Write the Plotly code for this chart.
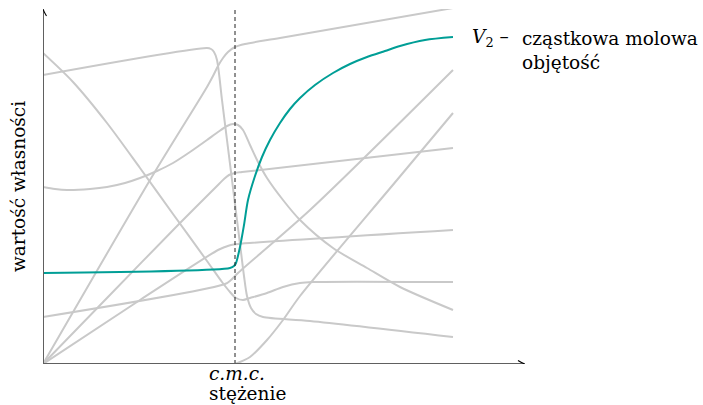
import plotly.graph_objects as go

# Data in arbitrary units: x = concentration, y = property value
cmc = 192

v2_x = [0, 187, 191, 193, 197, 201, 205, 212, 219, 227, 237, 247, 257, 272, 290, 307, 324, 342, 357, 382, 410]
v2_y = [91, 96, 98, 101, 117, 139, 164, 188, 207, 224, 241, 255, 266, 279, 291, 300, 307, 313, 318, 324, 327]

g1_x = [0, 164, 168, 171, 174, 179, 184, 190, 194, 198, 201, 204, 208, 213, 220, 267, 410]
g1_y = [289, 316, 315, 312, 304, 264, 224, 176, 144, 112, 88, 68, 56, 50, 47, 43, 27]

g2_x = [0, 30, 64, 97, 130, 164, 179, 187, 193, 200, 207, 224, 240, 257, 270, 410]
g2_y = [311, 282, 241, 196, 150, 103, 82, 72, 66, 64, 66, 71, 77, 81, 82, 82]

g3_x = [0, 12, 24, 47, 64, 82, 97, 114, 130, 147, 164, 175, 184, 190, 195, 200, 207, 215, 224, 240, 257, 290, 324, 357, 410]
g3_y = [177, 175, 174, 175, 177, 181, 186, 193, 201, 212, 224, 232, 238, 240, 239, 234, 219, 202, 186, 164, 144, 116, 96, 77, 54]

g4_x = [0, 110, 164, 170, 175, 180, 185, 192, 202, 237, 410]
g4_y = [0, 189, 277, 288, 298, 306, 312, 317, 320, 326, 356]

g5_x = [0, 64, 137, 175, 181, 186, 192, 199, 410]
g5_y = [0, 66, 141, 179, 185, 189, 191, 192, 216]

g6_x = [192, 207, 224, 240, 257, 354, 410]
g6_y = [0, 7, 24, 44, 68, 184, 251]

g7_x = [0, 97, 175, 182, 188, 195, 410]
g7_y = [0, 64, 114, 117, 119, 120, 134]

g8_x = [0, 182, 188, 195, 267, 410]
g8_y = [47, 80, 84, 91, 154, 294]

x_max = 482
y_max = 355

GRAY = "#c9c9c9"
TEAL = "#009e96"
FONT = "DejaVu Serif"
FS = 18.5

fig = go.Figure()

for gx, gy in [(g1_x, g1_y), (g2_x, g2_y), (g3_x, g3_y), (g4_x, g4_y),
               (g5_x, g5_y), (g6_x, g6_y), (g7_x, g7_y), (g8_x, g8_y)]:
    fig.add_trace(go.Scatter(x=gx, y=gy, mode="lines",
                             line=dict(color=GRAY, width=2, shape="spline", smoothing=0.8),
                             hoverinfo="skip", showlegend=False))

fig.add_trace(go.Scatter(x=v2_x, y=v2_y, mode="lines",
                         line=dict(color=TEAL, width=2, shape="spline", smoothing=0.8),
                         showlegend=False))

# cmc dashed line
fig.add_shape(type="line", x0=cmc, x1=cmc, y0=0, y1=y_max, xref="x", yref="y",
              line=dict(color="#222", width=1, dash="4px,3px"), layer="above")

# axes
fig.add_shape(type="line", x0=0, x1=x_max - 1, y0=0, y1=0, xref="x", yref="y",
              line=dict(color="#606060", width=2), layer="above")
fig.add_shape(type="line", x0=0, x1=0, y0=0, y1=y_max - 1, xref="x", yref="y",
              line=dict(color="#606060", width=2), layer="above")
# arrow heads (axes are 1 unit = 1 px)
fig.add_shape(type="path", xref="x", yref="y", layer="above",
              path=f"M {x_max-7},-3.5 Q {x_max-3},-1 {x_max},0 Q {x_max-3},1 {x_max-7},3.5",
              line=dict(color="black", width=1.1))
fig.add_shape(type="path", xref="x", yref="y", layer="above",
              path=f"M -3.5,{y_max-7} Q -1,{y_max-3} 0,{y_max} Q 1,{y_max-3} 3.5,{y_max-7}",
              line=dict(color="black", width=1.1))


def label(text, x, y, xanchor="left", angle=0):
    fig.add_annotation(x=x, y=y, xref="paper", yref="paper", text=text,
                       showarrow=False, xanchor=xanchor, yanchor="middle", textangle=angle,
                       font=dict(family=FONT, size=FS, color="black"))


label("<i>V</i><sub>2</sub> –", 0.886, 0.918)
label("cząstkowa molowa", 0.990, 0.918)
label("objętość", 0.990, 0.848)
label("<i>c.m.c.</i>", 0.340, -0.028)
label("stężenie", 0.340, -0.082)
label("wartość własności", -0.052, 0.501, xanchor="center", angle=-90)

fig.update_layout(
    width=703, height=405,
    margin=dict(l=43, r=178, t=9, b=41),
    paper_bgcolor="white", plot_bgcolor="white",
    xaxis=dict(range=[0, x_max], visible=False, fixedrange=True),
    yaxis=dict(range=[0, y_max], visible=False, fixedrange=True),
)

fig.write_html("out.html")
